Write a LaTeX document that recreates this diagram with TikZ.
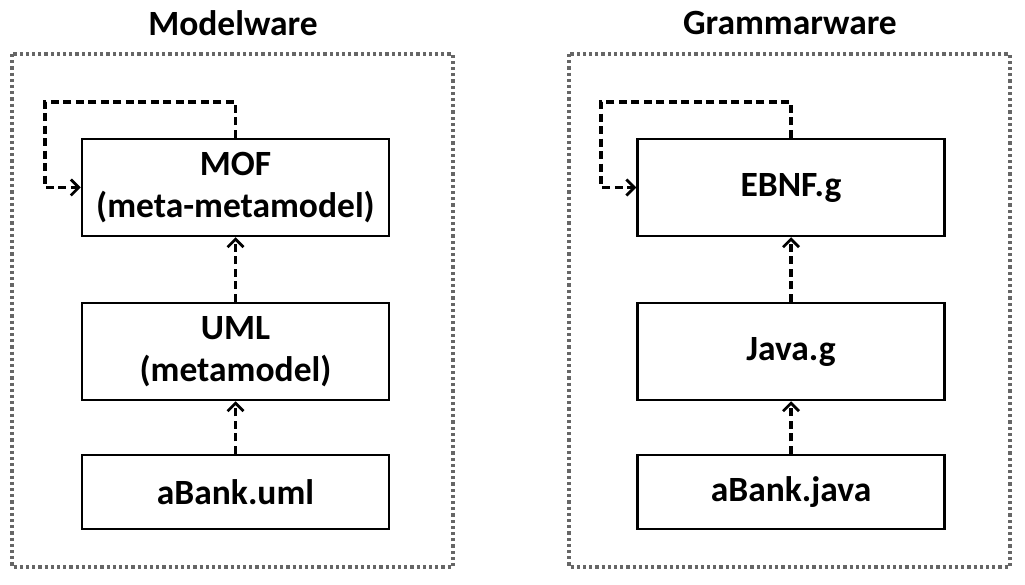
\documentclass[tikz,border=0pt]{standalone}
\usepackage{fontspec}
\setmainfont{Carlito}
\usetikzlibrary{arrows.meta,calc}
\tikzset{
  box/.style={draw=black, line width=2.5pt, minimum width=307pt, inner sep=0pt, align=center,
    font=\fontsize{35.5}{42}\selectfont\bfseries},
  frame/.style={draw=black!60, line width=3.4pt, dash pattern=on 3.2pt off 3pt},
  dep/.style={draw=black, line width=3.4pt, dash pattern=on 8pt off 4.5pt,
    -{Straight Barb[length=8pt,width=16pt,line width=2.8pt]}},
  title/.style={font=\fontsize{35.5}{42}\selectfont\bfseries}
}
\begin{document}
\begin{tikzpicture}[x=1pt,y=-1pt]
\useasboundingbox (0,0) rectangle (1025,585);
% frames
\draw[frame] (12,54) rectangle (453,567);
\draw[frame] (569,54) rectangle (1010,567);
\node[title] (t1) at (233,23) {Modelware};
\node[title] (t2) at (790,23) {Grammarware};
% left column
\node[box, minimum height=97pt] (mof) at (235.5,187.5) {MOF\\(meta-metamodel)};
\node[box, minimum height=97pt] (uml) at (235.5,351.5) {UML\\(metamodel)};
\node[box, minimum height=74pt] (abu) at (235.5,492) {aBank.uml};
% right column
\node[box, minimum height=97pt] (ebnf) at (791,187.5) {EBNF.g};
\node[box, minimum height=97pt] (java) at (791,351.5) {Java.g};
\node[box, minimum height=74pt] (abj) at (791,492) {aBank.java};
% arrows
\draw[dep] (abu.north) -- (uml.south);
\draw[dep] (uml.north) -- (mof.south);
\draw[dep] (abj.north) -- (java.south);
\draw[dep] (java.north) -- (ebnf.south);
\coordinate (l1) at (45,102);
\coordinate (l2) at (601,102);
\draw[dep] (mof.north) -- (mof.north |- l1) -- (l1) -- (l1 |- mof.west) -- (mof.west);
\draw[dep] (ebnf.north) -- (ebnf.north |- l2) -- (l2) -- (l2 |- ebnf.west) -- (ebnf.west);
\end{tikzpicture}
\end{document}
